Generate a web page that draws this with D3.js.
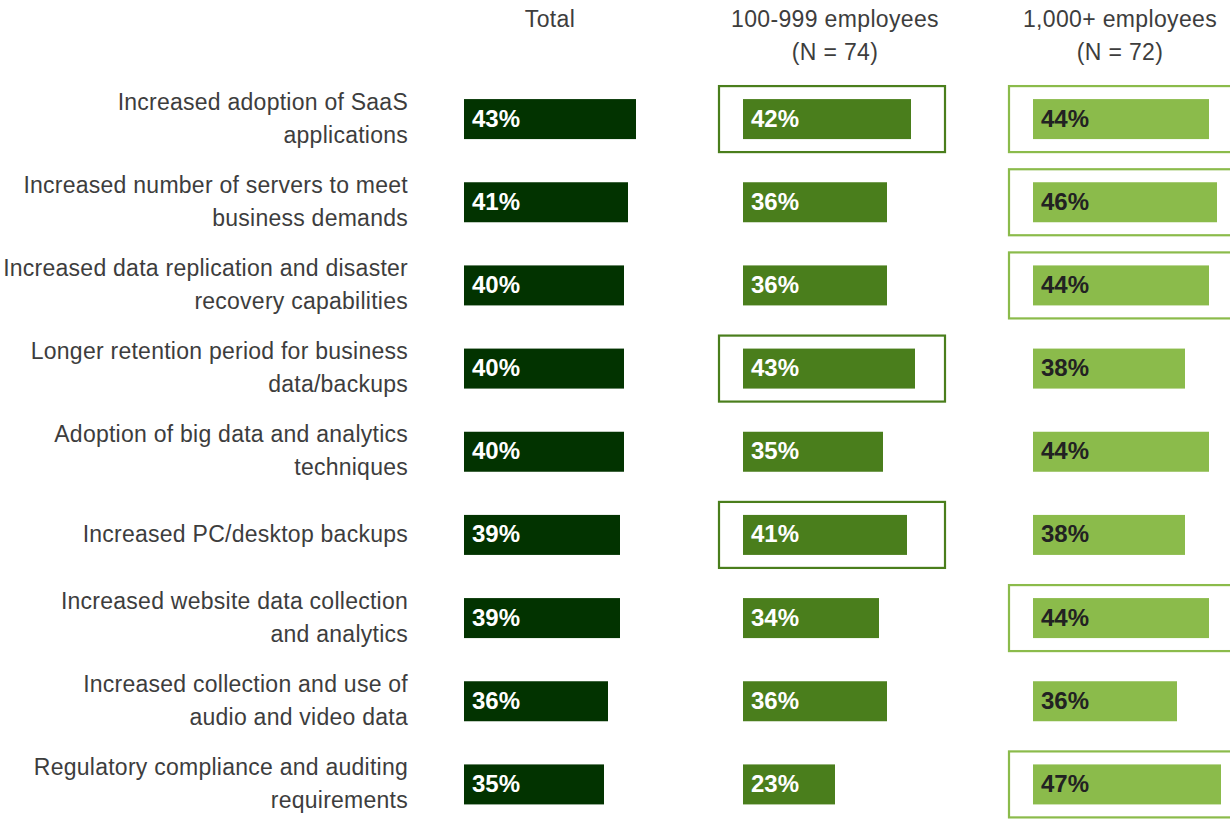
<!DOCTYPE html>
<html>
<head>
<meta charset="utf-8">
<script src="https://cdn.jsdelivr.net/npm/d3@7"></script>
<style>
  body { margin: 0; background: #fff; }
  svg { display: block; }
</style>
</head>
<body>
<div id="chart"></div>
<script>
// data
var categories = [
  ["Increased adoption of SaaS", "applications"],
  ["Increased number of servers to meet", "business demands"],
  ["Increased data replication and disaster", "recovery capabilities"],
  ["Longer retention period for business", "data/backups"],
  ["Adoption of big data and analytics", "techniques"],
  ["Increased PC/desktop backups"],
  ["Increased website data collection", "and analytics"],
  ["Increased collection and use of", "audio and video data"],
  ["Regulatory compliance and auditing", "requirements"]
];
var totalVals = [43, 41, 40, 40, 40, 39, 39, 36, 35];
var midVals = [42, 36, 36, 43, 35, 41, 34, 36, 23];
var largeVals = [44, 46, 44, 38, 44, 38, 44, 36, 47];
var columnTitles = [["Total"], ["100-999 employees", "(N = 74)"], ["1,000+ employees", "(N = 72)"]];
// rows with a box round the bar, per column
var midBoxed = [0, 3, 5];
var largeBoxed = [0, 1, 2, 6, 8];

var W = 1230, H = 820;
var font = "'Liberation Sans', Arial, Helvetica, sans-serif";

var svg = d3.select("#chart").append("svg")
  .attr("width", W)
  .attr("height", H);

var y = d3.scalePoint()
  .domain(d3.range(categories.length))
  .range([77.5, 826])
  .padding(0.5);

var x = d3.scaleLinear().domain([0, 1]).range([0, 4]);

var barH = 40;

var cols = [
  { start: 464, vals: totalVals, fill: "#023300", txt: "#fff", boxed: [], title: columnTitles[0], cx: 550 },
  { start: 743, vals: midVals, fill: "#4a7e1c", txt: "#fff", boxed: midBoxed, title: columnTitles[1], cx: 835 },
  { start: 1033, vals: largeVals, fill: "#8bbb4b", txt: "#222", boxed: largeBoxed, title: columnTitles[2], cx: 1120 }
];

// category labels
var lab = svg.append("g")
  .attr("font-family", font)
  .attr("font-size", 23)
  .attr("letter-spacing", 0.25)
  .attr("fill", "#3d3d3d")
  .attr("text-anchor", "end");

categories.forEach(function(c, i) {
  var t = lab.append("text")
    .attr("x", 408)
    .attr("y", y(i) - (c.length - 1) * 16.5 + 7);
  c.forEach(function(line, k) {
    t.append("tspan")
      .attr("x", 408)
      .attr("dy", k == 0 ? 0 : 33)
      .text(line);
  });
});

cols.forEach(function(col) {
  var g = svg.append("g");

  // column title
  col.title.forEach(function(line, k) {
    g.append("text")
      .attr("x", col.cx)
      .attr("y", 27 + k * 33)
      .attr("text-anchor", "middle")
      .attr("font-family", font)
      .attr("font-size", 23)
      .attr("letter-spacing", 0.35)
      .attr("fill", "#3d3d3d")
      .text(line);
  });

  // highlight boxes
  g.selectAll("rect.box")
    .data(col.boxed)
    .enter().append("rect")
    .attr("class", "box")
    .attr("x", col.start - 24)
    .attr("y", function(d) { return y(d) - 33; })
    .attr("width", 226)
    .attr("height", 66)
    .attr("fill", "none")
    .attr("stroke", col.fill)
    .attr("stroke-width", 2.2);

  g.selectAll("rect.bar")
    .data(col.vals)
    .enter().append("rect")
    .attr("class", "bar")
    .attr("x", col.start)
    .attr("y", function(d, i) { return y(i) - barH / 2; })
    .attr("width", function(d) { return x(d); })
    .attr("height", barH)
    .attr("fill", col.fill);

  g.selectAll("text.val")
    .data(col.vals)
    .enter().append("text")
    .attr("class", "val")
    .attr("x", col.start + 8)
    .attr("y", function(d, i) { return y(i) + 7.5; })
    .attr("font-family", font)
    .attr("font-weight", "bold")
    .attr("font-size", 24)
    .attr("fill", col.txt)
    .text(function(d) { return d + "%"; });
});
</script>
</body>
</html>
